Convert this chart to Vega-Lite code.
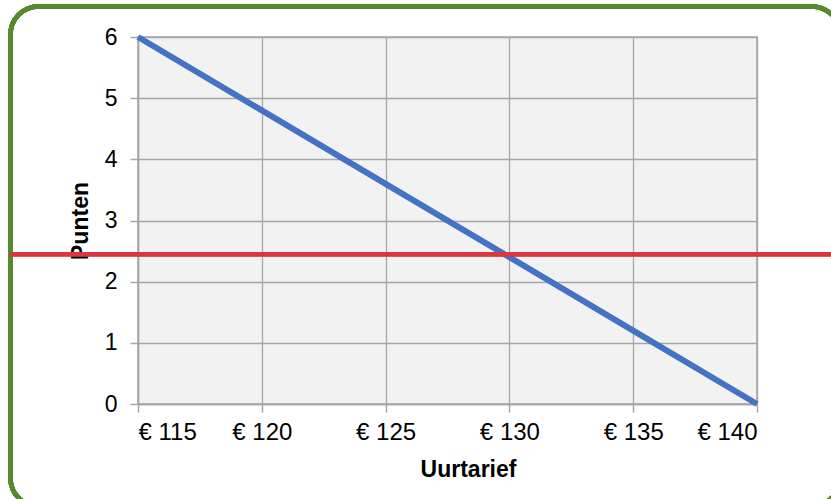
{
  "$schema": "https://vega.github.io/schema/vega-lite/v6.json",
  "width": 619,
  "height": 367,
  "autosize": {"type": "none"},
  "padding": {"left": 138, "top": 37, "right": 74, "bottom": 95},
  "background": "white",
  "config": {
    "view": {"fill": "#f2f2f2", "stroke": "#a6a6a6", "strokeWidth": 1.5},
    "font": "Liberation Sans",
    "axis": {
      "gridColor": "#a6a6a6",
      "gridWidth": 1.3,
      "domainColor": "#a6a6a6",
      "domainWidth": 1.5,
      "tickColor": "#a6a6a6",
      "tickWidth": 1.5,
      "tickSize": 8,
      "labelFont": "Liberation Sans",
      "labelFontSize": 23,
      "labelColor": "#000000",
      "titleFont": "Liberation Sans",
      "titleFontSize": 23,
      "titleFontWeight": "bold",
      "titleColor": "#000000"
    }
  },
  "data": {
    "values": [
      {"uurtarief": 115, "punten": 6},
      {"uurtarief": 120, "punten": 4.8},
      {"uurtarief": 125, "punten": 3.6},
      {"uurtarief": 130, "punten": 2.4},
      {"uurtarief": 135, "punten": 1.2},
      {"uurtarief": 140, "punten": 0}
    ]
  },
  "layer": [
    {
      "mark": {"type": "rect", "fill": null, "fillOpacity": 0, "stroke": "#578a30", "strokeWidth": 4.5, "cornerRadius": 28, "clip": false},
      "encoding": {
        "x": {"datum": 109.85},
        "x2": {"datum": 143.35},
        "y": {"datum": 6.5},
        "y2": {"datum": -1.67}
      }
    },
    {
      "mark": {"type": "line", "color": "#4472c4", "strokeWidth": 6, "strokeCap": "butt", "clip": false},
      "encoding": {
        "x": {
          "field": "uurtarief",
          "type": "quantitative",
          "scale": {"domain": [115, 140], "nice": false, "zero": false},
          "axis": {
            "title": "Uurtarief",
            "values": [115, 120, 125, 130, 135, 140],
            "labelExpr": "'€ ' + datum.value",
            "labelFontSize": 24,
            "labelPadding": 8,
            "titlePadding": 14,
            "titleX": 330,
            "grid": true
          }
        },
        "y": {
          "field": "punten",
          "type": "quantitative",
          "scale": {"domain": [0, 6], "nice": false},
          "axis": {
            "title": "Punten",
            "values": [0, 1, 2, 3, 4, 5, 6],
            "format": "d",
            "labelPadding": 13,
            "titlePadding": 12,
            "grid": true
          }
        }
      }
    },
    {
      "mark": {"type": "rule", "color": "#d9363e", "strokeWidth": 4, "clip": false},
      "encoding": {
        "y": {"datum": 2.45},
        "x": {"datum": 109.85},
        "x2": {"datum": 144}
      }
    }
  ]
}
